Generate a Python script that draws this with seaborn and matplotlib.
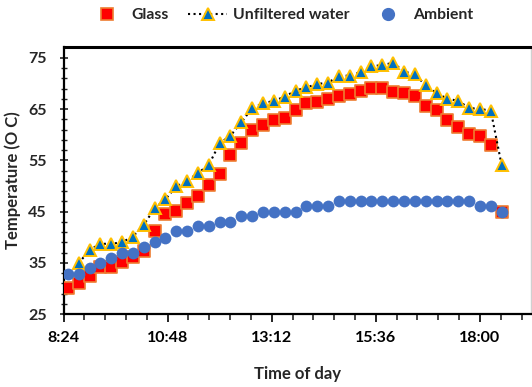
import numpy as np
import pandas as pd
import matplotlib
matplotlib.use("Agg")
import matplotlib.pyplot as plt
from matplotlib.lines import Line2D
from matplotlib.ticker import FixedLocator, FuncFormatter
import seaborn as sns

sns.set_style("white")
plt.rcParams["font.family"] = ["Lato", "DejaVu Sans"]
plt.rcParams["font.weight"] = "bold"

times = ["8:30", "8:45", "9:00", "9:15", "9:30", "9:45", "10:00", "10:15", "10:30", "10:45",
         "11:00", "11:15", "11:30", "11:45", "12:00", "12:15", "12:30", "12:45", "13:00", "13:15",
         "13:30", "13:45", "14:00", "14:15", "14:30", "14:45", "15:00", "15:15", "15:30", "15:45",
         "16:00", "16:15", "16:30", "16:45", "17:00", "17:15", "17:30", "17:45", "18:00", "18:15",
         "18:30"]

glass = [30.0, 31.1, 32.5, 34.1, 34.2, 35.1, 36.1, 37.2, 41.2, 44.5,
         45.1, 46.6, 48.0, 50.2, 52.3, 56.1, 58.3, 60.9, 61.9, 62.9,
         63.2, 64.9, 66.1, 66.3, 66.9, 67.6, 68.0, 68.6, 69.1, 69.1,
         68.4, 68.1, 67.6, 65.5, 64.8, 62.9, 61.4, 60.2, 59.8, 58.0,
         45.0]

unfiltered = [None, 34.9, 37.5, 38.7, 38.7, 39.0, 40.1, 42.4, 45.6, 47.4,
              49.9, 51.0, 52.5, 54.1, 58.3, 59.8, 62.4, 65.2, 66.1, 66.6,
              67.4, 68.6, 69.2, 69.9, 70.1, 71.5, 71.5, 72.2, 73.3, 73.6,
              74.0, 72.3, 71.8, 69.6, 68.1, 67.0, 66.6, 65.2, 65.0, 64.7,
              54.1]

ambient = [32.9, 32.9, 34.0, 35.0, 35.9, 37.0, 37.0, 38.0, 39.0, 39.9,
           41.1, 41.1, 42.1, 42.1, 43.0, 43.0, 44.1, 44.1, 45.0, 45.0,
           45.0, 45.0, 46.0, 46.0, 46.0, 47.1, 47.1, 47.1, 47.1, 47.1,
           47.1, 47.1, 47.1, 47.1, 47.1, 47.1, 47.1, 47.1, 46.0, 46.0,
           45.0]

x_tick_labels = ["8:24", "10:48", "13:12", "15:36", "18:00"]
y_ticks = [25, 35, 45, 55, 65, 75]


def to_day(s):
    h, m = s.split(":")
    return (int(h) * 60 + int(m)) / 1440.0


df = pd.DataFrame({
    "t": [to_day(s) for s in times],
    "Glass": glass,
    "Unfiltered water": pd.array(unfiltered, dtype="Float64").astype(float),
    "Ambient": ambient,
})

fig = plt.figure(figsize=(5.32, 3.87), dpi=100)
ax = fig.add_axes([63.5 / 532, 1 - 314 / 387, (531 - 63.5) / 532, (314 - 47) / 387])

red = "#FF0000"
orange = "#ED7D31"
blue_tri = "#0070C0"
gold = "#FFC000"
amb = "#4472C4"

sns.scatterplot(data=df, x="t", y="Glass", ax=ax, marker="s", s=72, color=red,
                edgecolor=orange, linewidth=1.2, zorder=3, legend=False)
d2 = df.dropna(subset=["Unfiltered water"])
sns.lineplot(data=d2, x="t", y="Unfiltered water", ax=ax, color="black", linestyle=":",
             linewidth=1.5, marker="^", markersize=9.2, markerfacecolor=blue_tri,
             markeredgecolor=gold, markeredgewidth=1.4, zorder=4, legend=False)
sns.scatterplot(data=df, x="t", y="Ambient", ax=ax, marker="o", s=72, color=amb,
                edgecolor=amb, linewidth=0, zorder=5, legend=False)

x_major = [to_day(s) for s in x_tick_labels]
ax.set_xlim(0.35, 0.35 + (531 - 63.5) / 1041.0)
ax.set_ylim(25, 77.1)
ax.xaxis.set_major_locator(FixedLocator(x_major))
ax.xaxis.set_minor_locator(FixedLocator([0.35 + 0.02 * i for i in range(23)]))
ax.xaxis.set_major_formatter(FuncFormatter(lambda v, p: x_tick_labels[int(round((v - 0.35) / 0.1))]))
ax.yaxis.set_major_locator(FixedLocator(y_ticks))
ax.yaxis.set_minor_locator(FixedLocator(list(range(25, 77, 2))))

ax.tick_params(axis="x", which="major", direction="out", length=6, width=1.2,
               labelsize=11.5, pad=6, colors="black")
ax.tick_params(axis="x", which="minor", direction="out", length=4, width=1.2)
ax.tick_params(axis="y", which="major", direction="inout", length=6, width=1.2,
               labelsize=11.5, pad=9)
ax.tick_params(axis="y", which="minor", direction="inout", length=5, width=1.0)
ax.tick_params(bottom=True, left=True, which="both")
for lab in ax.get_xticklabels() + ax.get_yticklabels():
    lab.set_fontweight("bold")

for side in ["left", "bottom", "top"]:
    ax.spines[side].set_color("black")
    ax.spines[side].set_linewidth(1.6)
ax.spines["top"].set_linewidth(2.2)
ax.spines["right"].set_color("#D0D0D0")
ax.spines["right"].set_linewidth(1.0)

ax.set_xlabel("Time of day", fontsize=12, fontweight="bold", labelpad=15)
ax.set_ylabel("Temperature (O C)", fontsize=12, fontweight="bold", labelpad=5)

handles = [
    Line2D([], [], linestyle="none", marker="s", markersize=8.3, markerfacecolor=red,
           markeredgecolor=orange, markeredgewidth=1.2),
    Line2D([], [], linestyle=":", color="black", linewidth=1.5, marker="^", markersize=9.2,
           markerfacecolor=blue_tri, markeredgecolor=gold, markeredgewidth=1.4),
    Line2D([], [], linestyle="none", marker="o", markersize=8.5, markerfacecolor=amb,
           markeredgecolor=amb),
]
fig.legend(handles, ["Glass", "Unfiltered water", "Ambient"], loc="center",
           bbox_to_anchor=(280 / 532, 1 - 15 / 387), ncol=3, frameon=False,
           prop={"size": 11.3, "weight": "bold"}, handlelength=2.5, handletextpad=0.35,
           columnspacing=1.2, borderaxespad=0)

fig.savefig("out.png", dpi=100)
